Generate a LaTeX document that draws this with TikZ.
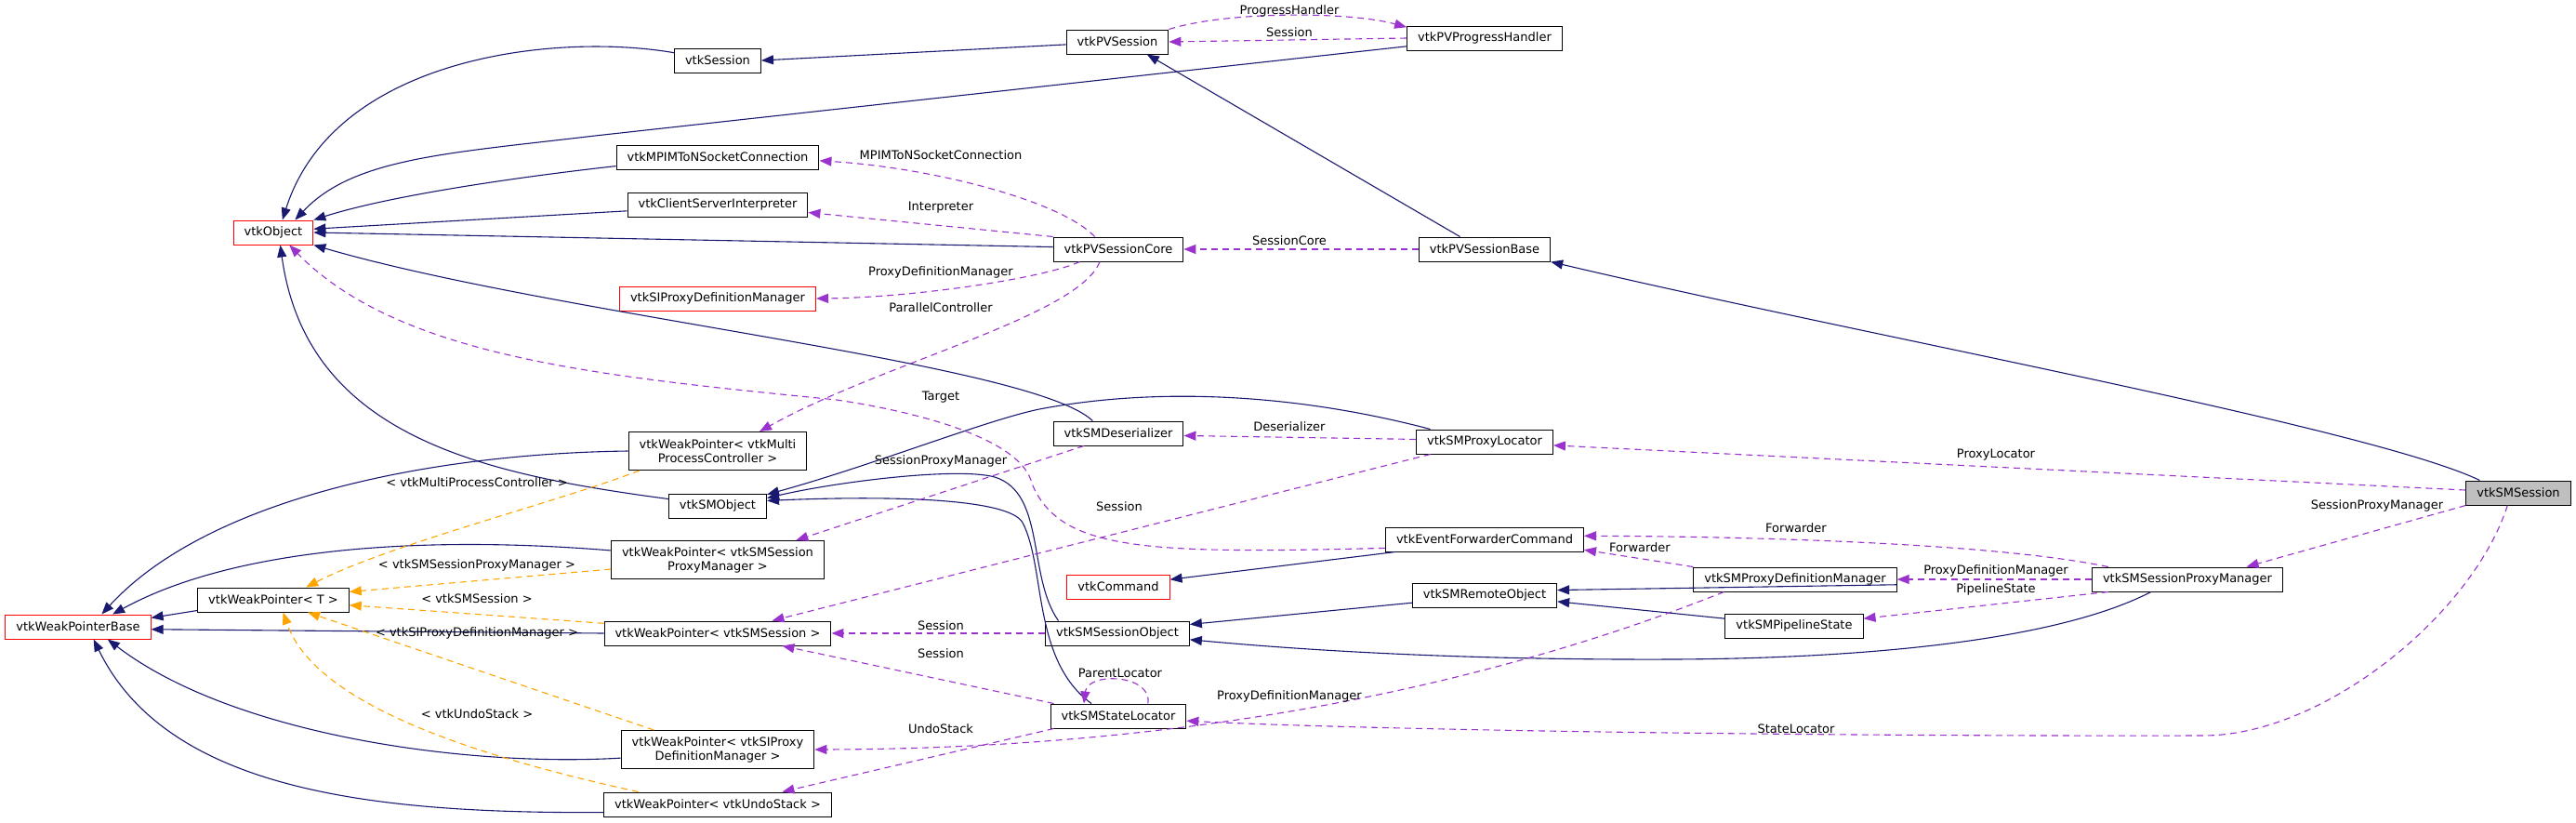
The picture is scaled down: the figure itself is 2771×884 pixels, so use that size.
\documentclass[tikz,border=0pt]{standalone}
\usepackage{fontspec}
\setmainfont{DejaVu Sans}
\usetikzlibrary{arrows.meta}
\definecolor{inhblue}{HTML}{191970}
\definecolor{usepurple}{HTML}{9A32CD}
\definecolor{tmplorange}{HTML}{FFA500}
\definecolor{mainfill}{HTML}{BFBFBF}

\tikzset{
  cls/.style={draw=black, fill=white, line width=1pt, minimum height=26pt,
    inner xsep=11.5pt, inner ysep=0pt, font=\fontsize{13}{15}\selectfont},
  redcls/.style={cls, draw=red},
  twoline/.style={cls, align=center, minimum height=41pt},
  lbl/.style={inner sep=0pt, font=\fontsize{13}{15}\selectfont},
  inh/.style={draw=inhblue, line width=1.1pt, -{Triangle[length=13pt,width=10pt]}},
  member/.style={draw=usepurple, line width=1.1pt, dash pattern=on 7pt off 5pt,
    -{Triangle[length=13pt,width=10pt]}},
  tmpl/.style={draw=tmplorange, line width=1.1pt, dash pattern=on 7pt off 5pt,
    -{Triangle[length=13pt,width=10pt]}}
}

\begin{document}
\begin{tikzpicture}[x=1pt, y=-1pt]
\useasboundingbox (0,0) rectangle (2771,884);

% classes
\node[redcls] (obj) at (294,250) {vtkObject};
\node[cls] (sess) at (772,65) {vtkSession};
\node[cls] (mpi) at (772,169) {vtkMPIMToNSocketConnection};
\node[cls] (csi) at (772,220) {vtkClientServerInterpreter};
\node[redcls] (sipdm) at (772,321) {vtkSIProxyDefinitionManager};
\node[cls] (pvsess) at (1202,45) {vtkPVSession};
\node[cls] (pvph) at (1597,41) {vtkPVProgressHandler};
\node[cls] (pvcore) at (1203,268) {vtkPVSessionCore};
\node[cls] (pvbase) at (1597,268) {vtkPVSessionBase};
\node[twoline] (wpmpc) at (772,485) {vtkWeakPointer< vtkMulti\\ProcessController >};
\node[cls] (smobj) at (772,544) {vtkSMObject};
\node[twoline] (wpspm) at (772,602) {vtkWeakPointer< vtkSMSession\\ProxyManager >};
\node[cls] (wpt) at (294,645) {vtkWeakPointer< T >};
\node[redcls] (wpbase) at (84,674) {vtkWeakPointerBase};
\node[cls] (wpsms) at (772,681) {vtkWeakPointer< vtkSMSession >};
\node[twoline] (wpsipdm) at (772,806) {vtkWeakPointer< vtkSIProxy\\DefinitionManager >};
\node[cls] (wpundo) at (772,865) {vtkWeakPointer< vtkUndoStack >};
\node[cls] (deser) at (1203,466) {vtkSMDeserializer};
\node[cls] (plocator) at (1597,475) {vtkSMProxyLocator};
\node[cls] (efc) at (1597,580) {vtkEventForwarderCommand};
\node[redcls] (cmd) at (1203,631) {vtkCommand};
\node[cls] (remote) at (1597,640) {vtkSMRemoteObject};
\node[cls] (sessobj) at (1202,681) {vtkSMSessionObject};
\node[cls] (stloc) at (1203,770) {vtkSMStateLocator};
\node[cls, fill=mainfill] (smsess) at (2709,530) {vtkSMSession};
\node[cls] (pdm) at (1931,623) {vtkSMProxyDefinitionManager};
\node[cls] (spm) at (2353,623) {vtkSMSessionProxyManager};
\node[cls] (pipe) at (1930,673) {vtkSMPipelineState};

% inheritance
\draw[inh] (pvsess.183) -- (sess.east);
\draw[inh] (sess.170) .. controls (600,35) and (360,60) .. (obj.54);
\draw[inh] (pvph.186) -- (640,146) .. controls (480,165) and (380,170) .. (obj.30);
\draw[inh] (mpi.185) .. controls (560,190) and (420,210) .. (obj.north east);
\draw[inh] (csi.184) -- (obj.5);
\draw[inh] (pvcore.178) -- (obj.east);
\draw[inh] (deser.154) .. controls (1110,390) and (600,340) .. (obj.south east);
\draw[inh] (smobj.172) .. controls (520,510) and (330,470) .. (obj.-61);
\draw[inh] (pvbase.153) -- (pvsess.-23);
\draw[inh] (smsess.162) .. controls (2550,460) and (2000,360) .. (pvbase.south east);
\draw[inh] (wpmpc.west) .. controls (450,488) and (220,540) .. (wpbase.28);
\draw[inh] (wpspm.175) .. controls (450,575) and (250,590) .. (wpbase.20);
\draw[inh] (wpt.188) -- (wpbase.7);
\draw[inh] (wpsms.west) -- (wpbase.-2);
\draw[inh] (wpsipdm.185) .. controls (500,825) and (250,790) .. (wpbase.-23);
\draw[inh] (wpundo.184) .. controls (400,875) and (180,850) .. (wpbase.-39);
\draw[inh] (efc.188) -- (cmd.8);
\draw[inh] (pdm.-3) -- (remote.4);
\draw[inh] (pipe.174) -- (remote.-5);
\draw[inh] (remote.186) -- (sessobj.7);
\draw[inh] (spm.199) .. controls (2210,690) and (2000,708) .. (1800,709)
  .. controls (1550,710) and (1380,697) .. (sessobj.-5);
\draw[inh] (plocator.167) .. controls (1400,425) and (1250,415) .. (1118,440)
  .. controls (1060,452) and (940,500) .. (smobj.13);
\draw[inh] (sessobj.168) .. controls (1105,620) and (1125,530) .. (1070,513)
  .. controls (1030,502) and (900,518) .. (smobj.9);
\draw[inh] (stloc.155) .. controls (1110,710) and (1125,610) .. (1100,562)
  .. controls (1085,535) and (950,533) .. (smobj.6);

% members
\draw[member] (pvsess.north east) .. controls (1320,12) and (1450,12) .. (pvph.172);
\draw[member] (pvph.west) -- (pvsess.east);
\draw[member] (pvbase.west) -- (pvcore.east);
\draw[member] (pvcore.152) .. controls (1140,215) and (1000,180) .. (mpi.-2);
\draw[member] (pvcore.north west) -- (csi.-5);
\draw[member] (pvcore.198) .. controls (1120,300) and (980,320) .. (sipdm.east);
\draw[member] (pvcore.214) .. controls (1160,340) and (950,390) .. (wpmpc.25);
\draw[member] (efc.185) .. controls (1230,596) and (1140,592) .. (1110,520)
  .. controls (1100,475) and (1000,445) .. (900,430)
  .. controls (650,405) and (430,385) .. (obj.-38);
\draw[member] (deser.200) -- (wpspm.14);
\draw[member] (plocator.193) -- (wpsms.13);
\draw[member] (sessobj.west) -- (wpsms.east);
\draw[member] (stloc.169) -- (wpsms.-11);
\draw[member] (pdm.190) .. controls (1620,730) and (1300,805) .. (wpsipdm.east);
\draw[member] (stloc.191) -- (wpundo.11);
\draw[member] (stloc.23) .. controls (1240,725) and (1170,722) .. (stloc.160);
\draw[member] (smsess.229) .. controls (2660,660) and (2500,791) .. (2370,791)
  .. controls (1900,792) and (1450,784) .. (stloc.-4);
\draw[member] (smsess.177) -- (plocator.-3);
\draw[member] (smsess.south west) -- (spm.12);
\draw[member] (plocator.178) -- (deser.-2);
\draw[member] (spm.171) .. controls (2150,585) and (1900,577) .. (efc.2);
\draw[member] (pdm.173) -- (efc.-6);
\draw[member] (spm.west) -- (pdm.east);
\draw[member] (spm.189) -- (pipe.6);

% template instances
\draw[tmpl] (wpmpc.194) .. controls (600,540) and (420,585) .. (wpt.21);
\draw[tmpl] (wpspm.185) -- (wpt.6);
\draw[tmpl] (wpsms.175) -- (wpt.-4);
\draw[tmpl] (wpsipdm.163) -- (wpt.-20);
\draw[tmpl] (wpundo.171) .. controls (520,815) and (340,760) .. (wpt.-52);

% labels
\node[lbl] (lph) at (1387,12) {ProgressHandler};
\node[lbl] (lsess1) at (1387,35) {Session};
\node[lbl] (lmpi) at (1012,167) {MPIMToNSocketConnection};
\node[lbl] (linterp) at (1012,223) {Interpreter};
\node[lbl] (lcore) at (1387,259) {SessionCore};
\node[lbl] (lpdm1) at (1012,293) {ProxyDefinitionManager};
\node[lbl] (lpar) at (1012,331) {ParallelController};
\node[lbl] (ltarget) at (1012,427) {Target};
\node[lbl] (ldeser) at (1387,459) {Deserializer};
\node[lbl] (lspm1) at (1012,496) {SessionProxyManager};
\node[lbl] (lsess2) at (1204,545) {Session};
\node[lbl] (lsess3) at (1012,673) {Session};
\node[lbl] (lsess4) at (1012,703) {Session};
\node[lbl] (lparent) at (1205,724) {ParentLocator};
\node[lbl] (lpdm2) at (1387,749) {ProxyDefinitionManager};
\node[lbl] (lundo) at (1012,784) {UndoStack};
\node[lbl] (lploc) at (2147,489) {ProxyLocator};
\node[lbl] (lspm2) at (2557,544) {SessionProxyManager};
\node[lbl] (lfwd1) at (1932,568) {Forwarder};
\node[lbl] (lfwd2) at (1764,589) {Forwarder};
\node[lbl] (lpdm3) at (2147,614) {ProxyDefinitionManager};
\node[lbl] (lpipe) at (2147,634) {PipelineState};
\node[lbl] (lstate) at (1932,784) {StateLocator};
\node[lbl] (lt1) at (513,519) {< vtkMultiProcessController >};
\node[lbl] (lt2) at (513,608) {< vtkSMSessionProxyManager >};
\node[lbl] (lt3) at (513,644) {< vtkSMSession >};
\node[lbl] (lt4) at (513,681) {< vtkSIProxyDefinitionManager >};
\node[lbl] (lt5) at (513,768) {< vtkUndoStack >};
\end{tikzpicture}
\end{document}
